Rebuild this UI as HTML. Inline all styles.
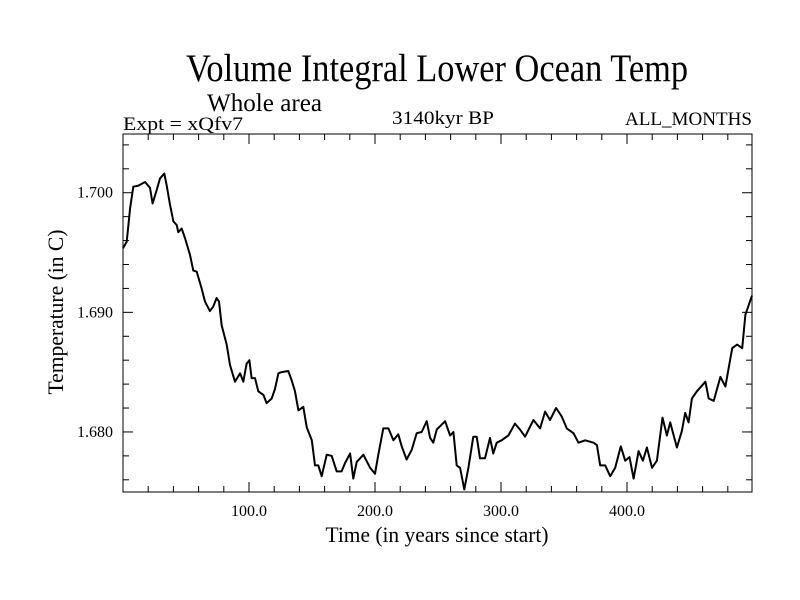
<!DOCTYPE html>
<html><head><meta charset="utf-8"><style>
html,body{margin:0;padding:0;background:#fff;}
svg{display:block;font-family:"Liberation Serif",serif;}
</style></head><body>
<svg id="chart" width="800" height="600" viewBox="0 0 800 600">
<rect width="800" height="600" fill="#fff"/>
<text x="186" y="81" font-size="39" textLength="502" lengthAdjust="spacingAndGlyphs">Volume Integral Lower Ocean Temp</text>
<text x="207" y="111" font-size="25" textLength="115" lengthAdjust="spacingAndGlyphs">Whole area</text>
<text x="123" y="130" font-size="19" textLength="120" lengthAdjust="spacingAndGlyphs">Expt = xQfv7</text>
<text x="392" y="124" font-size="19" textLength="102" lengthAdjust="spacingAndGlyphs">3140kyr BP</text>
<text x="625" y="125" font-size="19" textLength="127" lengthAdjust="spacingAndGlyphs">ALL_MONTHS</text>
<g id="axes"></g>
<path id="series" fill="none" stroke="#000" stroke-width="2" stroke-linejoin="round"/>
<rect x="123" y="134" width="629" height="358" fill="none" stroke="#000" stroke-width="1"/>
<text x="437" y="542" font-size="22" text-anchor="middle" textLength="223" lengthAdjust="spacingAndGlyphs">Time (in years since start)</text>
<text transform="translate(63,312) rotate(-90)" font-size="22" text-anchor="middle" textLength="165" lengthAdjust="spacingAndGlyphs">Temperature (in C)</text>
</svg>
<script>
const years = [0,2.9,5.6,8.2,12.2,17.5,21.4,23.5,26.7,29.4,32.8,34.7,37.3,40,42.6,43.9,46.6,49.2,53.2,55.8,58.5,62.4,65.1,69,71.7,74.3,76.2,78.3,82.3,84.9,88.9,92.9,95.5,98.1,100.3,102.1,104.8,107.4,111.4,114,118,120.6,123.3,125.9,131.2,133.9,136.5,139.2,143.1,145.8,149.8,152.4,155,157.7,161.7,165.6,169.6,173.5,176.2,180.2,182.8,185.5,190.8,196.1,200,202.6,206.6,210.6,214.6,218.5,221.2,225.1,229.1,233.1,237.1,241,243.7,246.3,249,255.6,259.6,262.2,264.8,267.5,270.9,274.1,278,280.7,283.3,287.3,291.3,293.9,296.6,300.5,305.8,311.1,315.1,319.1,325.7,331,335,338.9,343.7,348.2,352.2,357.5,361.5,366.8,373.4,376.1,378.7,382.7,386.7,390.6,395.1,398.6,402,405.2,409.2,412.6,415.8,419.8,423.7,428.2,431.7,434.3,439.6,443.6,446.2,448.9,451.5,455.5,462.2,464.8,468.8,474.1,478.1,483.5,487.4,491.4,494,499.2];
const temps = [1.69535,1.6959,1.6987,1.7005,1.7006,1.7009,1.7004,1.6991,1.7002,1.7012,1.7016,1.7006,1.699,1.6976,1.6973,1.6967,1.697,1.6962,1.6948,1.6935,1.6934,1.692,1.6909,1.6901,1.6905,1.6912,1.6909,1.6889,1.6873,1.6856,1.6842,1.6849,1.6842,1.6857,1.686,1.6845,1.6845,1.6834,1.6831,1.6824,1.6828,1.6836,1.6849,1.685,1.6851,1.6843,1.6834,1.6818,1.6821,1.6804,1.6793,1.6772,1.6772,1.6763,1.6781,1.678,1.6767,1.6767,1.6774,1.6782,1.6761,1.6775,1.6781,1.677,1.6765,1.6781,1.6803,1.6803,1.6793,1.6798,1.6788,1.6777,1.6785,1.6799,1.68,1.6809,1.6795,1.6791,1.6802,1.6809,1.6797,1.68,1.6772,1.677,1.6752,1.677,1.6796,1.6796,1.6778,1.6778,1.6795,1.6782,1.6791,1.6793,1.6797,1.6807,1.6802,1.6796,1.681,1.6803,1.6817,1.681,1.682,1.6813,1.6803,1.6799,1.6791,1.6793,1.6791,1.6789,1.6772,1.6772,1.6763,1.677,1.6788,1.6776,1.6779,1.6761,1.6784,1.6776,1.6787,1.677,1.6776,1.6812,1.6797,1.6808,1.6787,1.6801,1.6816,1.6808,1.6828,1.6834,1.6842,1.6828,1.6826,1.6846,1.6838,1.687,1.6873,1.687,1.6898,1.6914];
const xTickValues = [100,200,300,400];
const xTickLabels = ["100.0","200.0","300.0","400.0"];
const yTickValues = [1.700,1.690,1.680];
const yTickLabels = ["1.700","1.690","1.680"];

const X0=123, X1=752, Y0=134, Y1=492;
const XMIN=0, XMAX=499.2, YMIN=1.67498, YMAX=1.70491;
function xs(v){return X0+(v-XMIN)/(XMAX-XMIN)*(X1-X0);}
function ys(v){return Y1-(v-YMIN)/(YMAX-YMIN)*(Y1-Y0);}

const NS="http://www.w3.org/2000/svg";
const g=document.getElementById('axes');
function line(x1,y1,x2,y2,name){
  const l=document.createElementNS(NS,'line');
  l.setAttribute('x1',x1);l.setAttribute('y1',y1);l.setAttribute('x2',x2);l.setAttribute('y2',y2);
  l.setAttribute('stroke','#000');l.setAttribute('stroke-width','1');
  
  
  g.appendChild(l);
}
function text(x,y,s,anchor,name){
  const t=document.createElementNS(NS,'text');
  t.setAttribute('x',x);t.setAttribute('y',y);t.setAttribute('font-size','16');
  t.setAttribute('text-anchor',anchor);t.textContent=s;
  
  
  g.appendChild(t);
}
for(let v=20; v<XMAX; v+=20){
  const major = v%100===0;
  const L = major?10:6;
  line(xs(v),Y1,xs(v),Y1-L,'x-tick');
  line(xs(v),Y0,xs(v),Y0+L,'x-tick-top');
}
xTickValues.forEach((v,i)=>text(xs(v),516,xTickLabels[i],'middle','x-tick-label'));
for(let k=0;k<=15;k++){
  const v=1.676+k*0.002;
  if(v>YMAX) break;
  const major = Math.abs(((v-1.68)/0.01)-Math.round((v-1.68)/0.01))<1e-6;
  const L = major?10:6;
  line(X0,ys(v),X0+L,ys(v),'y-tick');
  line(X1,ys(v),X1-L,ys(v),'y-tick-right');
}
yTickValues.forEach((v,i)=>text(113,ys(v)+5,yTickLabels[i],'end','y-tick-label'));

let d='';
years.forEach((yr,i)=>{d+=(i?'L':'M')+xs(yr).toFixed(1)+','+ys(temps[i]).toFixed(1);});
document.getElementById('series').setAttribute('d',d);
</script>
</body></html>
